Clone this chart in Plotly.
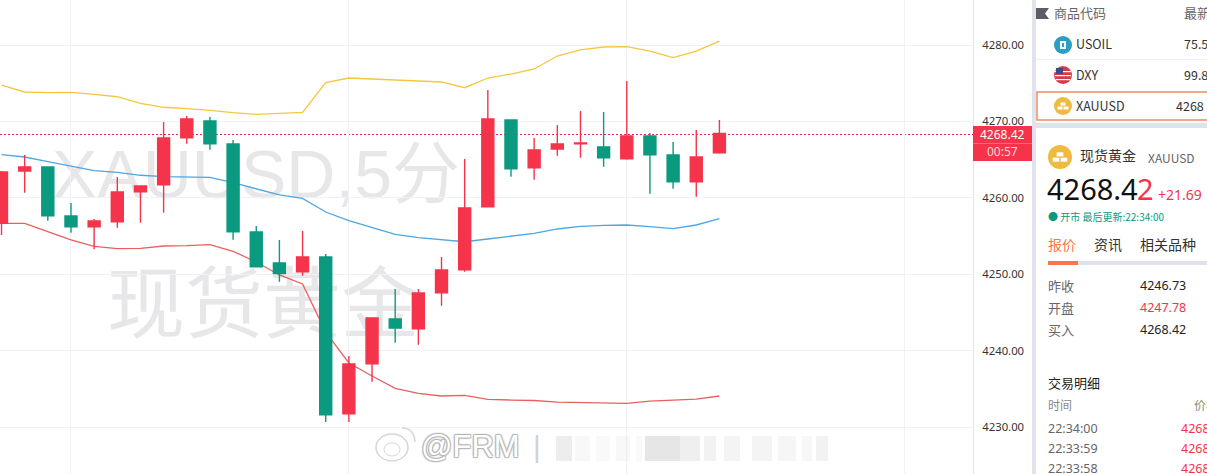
import plotly.graph_objects as go

W = 1207
H = 474
CN = "Noto Sans CJK SC"
NUM = "Noto Sans, Noto Sans CJK SC"

RED = "#f5344b"
GREEN = "#0a9a7f"
GOLD = "#eebb3f"
ORANGE = "#f5774a"
SPLIT = "#e1e3ec"

candle_idx = list(range(32))
open_ = [4256.66, 4263.51, 4264.03, 4257.62, 4256.22, 4256.87, 4260.80, 4261.71,
         4267.87, 4270.05, 4267.04, 4255.52, 4251.47, 4250.33, 4252.25, 4231.74,
         4238.29, 4244.14, 4242.87, 4247.58, 4250.59, 4258.83, 4270.18, 4263.94,
         4266.39, 4267.08, 4266.65, 4265.12, 4268.09, 4265.60, 4262.11, 4265.90]
close = [4263.38, 4264.03, 4257.66, 4256.22, 4256.96, 4260.76, 4261.54, 4267.83,
         4270.31, 4267.08, 4255.56, 4250.98, 4250.07, 4252.25, 4231.61, 4238.25,
         4244.27, 4242.96, 4247.54, 4250.55, 4258.66, 4270.31, 4263.81, 4266.26,
         4267.04, 4267.17, 4265.25, 4268.09, 4265.64, 4262.11, 4265.34, 4268.42]
high = [4263.50, 4265.60, 4264.03, 4259.32, 4257.23, 4262.72, 4261.54, 4269.92,
        4270.71, 4270.58, 4267.57, 4256.31, 4254.48, 4255.65, 4252.64, 4239.29,
        4244.27, 4248.06, 4248.06, 4252.25, 4265.08, 4274.11, 4270.18, 4267.83,
        4269.53, 4271.36, 4271.23, 4275.29, 4268.48, 4267.30, 4268.87, 4270.18]
low = [4255.13, 4260.67, 4257.00, 4255.43, 4253.26, 4256.09, 4256.74, 4258.05,
       4267.08, 4266.30, 4254.52, 4250.98, 4249.02, 4249.80, 4230.65, 4230.65,
       4235.93, 4241.03, 4240.77, 4245.88, 4250.33, 4258.76, 4262.76, 4262.37,
       4265.51, 4265.25, 4264.07, 4264.99, 4260.54, 4261.19, 4260.14, 4265.77]

upper = [4274.76, 4273.85, 4273.76, 4273.81, 4273.55, 4273.23, 4272.37, 4271.85,
         4271.66, 4271.45, 4271.14, 4270.93, 4271.06, 4271.19, 4275.07, 4275.68,
         4275.55, 4275.42, 4275.29, 4275.16, 4274.41, 4275.68, 4276.20, 4276.86,
         4278.56, 4279.35, 4279.74, 4279.80, 4279.21, 4278.36, 4279.21, 4280.52]
middle = [4265.64, 4265.34, 4264.73, 4264.12, 4263.55, 4263.34, 4262.95, 4262.76,
          4262.72, 4262.68, 4261.98, 4261.19, 4260.37, 4259.93, 4258.14, 4257.00,
          4256.05, 4255.20, 4254.78, 4254.48, 4254.25, 4254.61, 4255.01, 4255.35,
          4255.92, 4256.27, 4256.40, 4256.44, 4256.22, 4255.96, 4256.44, 4257.26]
lower = [4256.66, 4256.66, 4255.56, 4254.48, 4253.65, 4253.34, 4253.39, 4253.69,
         4253.73, 4253.86, 4253.00, 4251.60, 4249.90, 4248.72, 4242.43, 4238.38,
         4236.68, 4235.07, 4234.41, 4234.06, 4234.15, 4233.63, 4233.53, 4233.47,
         4233.27, 4233.21, 4233.14, 4233.10, 4233.40, 4233.53, 4233.66, 4234.06]

price_ticks = [4230, 4240, 4250, 4260, 4270, 4280]
price_labels = ["4230.00", "4240.00", "4250.00", "4260.00", "4270.00", "4280.00"]
time_grid = [3, 15, 27, 39]
last_price = 4268.42

x_range = [-0.065, 41.95]
y_range = [4223.85, 4285.89]
chart_right = 973


def px(x):
    return x / W


def py(y):
    return 1 - y / H


def rect(x0, y0, x1, y1, fill, line=None, opacity=1, layer="above"):
    return dict(type="rect", xref="paper", yref="paper", x0=px(x0), x1=px(x1), y0=py(y0), y1=py(y1),
                fillcolor=fill, opacity=opacity, layer=layer,
                line=dict(color=line or fill, width=1.5 if line else 0))


def circle(cx, cy, r, fill, line=None):
    return dict(type="circle", xref="paper", yref="paper", x0=px(cx - r), x1=px(cx + r),
                y0=py(cy + r), y1=py(cy - r), fillcolor=fill, layer="above",
                line=dict(color=line or fill, width=1 if line else 0))


def gold_icon(cx, cy, r):
    s = r / 9
    items = [circle(cx, cy, r, GOLD)]
    items.append(rect(cx - 2.5 * s, cy - 3.5 * s, cx + 2.5 * s, cy - 0.5 * s, "white"))
    items.append(rect(cx - 5.5 * s, cy + 0.5 * s, cx - 0.5 * s, cy + 3.5 * s, "white"))
    items.append(rect(cx + 0.5 * s, cy + 0.5 * s, cx + 5.5 * s, cy + 3.5 * s, "white"))
    return items


def text(x, y, s, size=12, color="#333333", family=CN, anchor="left", **font_extra):
    # text boxes sit about 1px low, so lift them
    return dict(xref="paper", yref="paper", x=px(x), y=py(y - 1), text=s, showarrow=False,
                xanchor=anchor, yanchor="middle", borderpad=0, borderwidth=0,
                font=dict(size=size, color=color, family=family, **font_extra))


fig = go.Figure()

# lines sit on the main axes so the candles (overlay axes) cover them
fig.add_trace(go.Scatter(x=candle_idx, y=upper, mode="lines", line=dict(color="#f5c73d", width=1.3)))
fig.add_trace(go.Scatter(x=candle_idx, y=middle, mode="lines", line=dict(color="#4fa6e3", width=1.3)))
fig.add_trace(go.Scatter(x=candle_idx, y=lower, mode="lines", line=dict(color="#e9605f", width=1.3)))
fig.add_trace(go.Candlestick(x=candle_idx, open=open_, high=high, low=low, close=close,
                             xaxis="x2", yaxis="y2", whiskerwidth=0,
                             increasing=dict(line=dict(color=RED, width=1.4), fillcolor=RED),
                             decreasing=dict(line=dict(color=GREEN, width=1.4), fillcolor=GREEN)))

shapes = []

# watermark text stays under the traces
for y0, y1, x0, label, size in [(131, 205, 49, "XAUUSD,5分", 68), (255, 340, 104, "现货黄金", 78)]:
    shapes.append(dict(type="rect", xref="paper", yref="paper", x0=px(x0), x1=px(x0 + 500),
                       y0=py(y1), y1=py(y0), layer="below", fillcolor="rgba(0,0,0,0)",
                       line=dict(width=0),
                       label=dict(text=label, textposition="middle left", padding=0,
                                  font=dict(size=size, color="#e7e7ea", family="Liberation Sans, " + CN))))

# last price line, one row wide so the dots keep their colour
shapes.append(dict(type="line", xref="paper", yref="paper", x0=0, x1=px(chart_right), y0=py(134.5), y1=py(134.5),
                   layer="below", line=dict(color="#f0283c", width=1, dash="2px,2px")))

# price tag
shapes.append(rect(chart_right, 126, 1032, 161, RED))
shapes.append(rect(chart_right, 143, 1032, 143.8, "#f77a88"))

# side panel frame
shapes.append(rect(1032, 0, 1036, H, SPLIT))
shapes.append(rect(1036, 123, W, 128, SPLIT))
shapes.append(rect(1036, 59.3, W, 60, "#e6e8ee"))
shapes.append(rect(1037, 92, W + 3, 120, "white", line="#f08a63"))
shapes.append(rect(1048, 261, W, 265, SPLIT))
shapes.append(rect(1048, 261, 1078, 265, ORANGE))

# flag mark in the list header
shapes.append(dict(type="path", xref="paper", yref="paper", layer="above", fillcolor="#5a5d66",
                   line=dict(width=0),
                   path="M %f %f L %f %f L %f %f L %f %f L %f %f Z" % (
                       px(1036), py(8), px(1049), py(8), px(1045), py(13.5), px(1049), py(19), px(1036), py(19))))

# list icons
shapes.append(circle(1063, 45, 9, "#2c9ec6"))
shapes.append(rect(1060, 41, 1066, 49, "white"))
shapes.append(rect(1062, 43, 1064, 47, "#2c9ec6"))
shapes.append(circle(1063, 75, 9, "#d83a4a"))
shapes.append(rect(1055, 71, 1071, 72.2, "white"))
shapes.append(rect(1055, 75, 1071, 76.2, "white"))
shapes.append(rect(1056, 79, 1070, 80.2, "white"))
shapes.append(rect(1056, 68, 1063, 74, "#3c4a86"))
shapes += gold_icon(1063, 106, 9)
shapes += gold_icon(1060, 157, 12)

# weibo mark and the blurred part of the credit
shapes.append(dict(type="circle", xref="paper", yref="paper", x0=px(376), x1=px(408), y0=py(461), y1=py(434),
                   layer="above", fillcolor="rgba(255,255,255,0.7)", line=dict(color="#d6d6d6", width=1.5)))
shapes.append(dict(type="circle", xref="paper", yref="paper", x0=px(384), x1=px(400), y0=py(456), y1=py(443),
                   layer="above", fillcolor="rgba(255,255,255,0)", line=dict(color="#d6d6d6", width=1)))
shapes.append(dict(type="path", xref="paper", yref="paper", layer="above", fillcolor="rgba(0,0,0,0)",
                   line=dict(color="#d6d6d6", width=1.5),
                   path="M %f %f Q %f %f %f %f" % (px(402), py(428), px(414), py(428), px(415), py(442))))
for x0, x1, tone in [(556, 572, 0.3), (575, 590, 0.12), (596, 610, 0.1), (616, 630, 0.12), (636, 642, 0.1),
                     (645, 680, 0.42), (680, 700, 0.28), (704, 716, 0.22), (724, 740, 0.18),
                     (752, 772, 0.18), (778, 796, 0.16), (802, 812, 0.14), (816, 828, 0.22)]:
    shapes.append(dict(type="rect", xref="paper", yref="paper", x0=px(x0), x1=px(x1), y0=py(461), y1=py(436),
                       layer="above", fillcolor="#c4c4c4", opacity=tone, line=dict(width=0)))

notes = [
    text(1002, 135, "%.2f" % last_price, 12, "white", NUM, "center"),
    text(1002, 152, "00:57", 12, "#fbd4d9", NUM, "center"),

    text(1054, 13, "商品代码", 13, "#666666"),
    text(1184, 13, "最新价", 13, "#666666"),
    text(1076, 45, "USOIL", 12.5),
    text(1184, 45, "75.5", 12.5),
    text(1076, 76, "DXY", 12.5),
    text(1184, 76, "99.8", 12.5),
    text(1076, 107, "XAUUSD", 12.5),
    text(1176, 107, "4268", 12.5),

    text(1080, 156, "现货黄金", 14),
    text(1148, 158, "XAUUSD", 12, "#666666"),
    text(1047, 189, "4268.4", 29, "#111111", NUM),
    text(1137, 189, "2", 29, RED, NUM),
    text(1158, 195, "+21.69", 14, RED, NUM),
    text(1048, 217, "● 开市 最后更新:22:34:00", 10, GREEN),

    text(1048, 245, "报价", 14, ORANGE),
    text(1094, 245, "资讯", 14),
    text(1140, 245, "相关品种", 14),

    text(1048, 286, "昨收", 13, "#666666"),
    text(1048, 308, "开盘", 13, "#666666"),
    text(1048, 330, "买入", 13, "#666666"),
    text(1140, 286, "4246.73", 12.5, "#222222", NUM),
    text(1140, 308, "4247.78", 12.5, RED, NUM),
    text(1140, 330, "4268.42", 12.5, "#222222", NUM),

    text(1048, 383, "交易明细", 13, "#222222"),
    text(1048, 405, "时间", 12, "#888888"),
    text(1194, 405, "价格", 12, "#888888"),
    text(1048, 429, "22:34:00", 12.5, "#666666", NUM),
    text(1048, 449, "22:33:59", 12.5, "#666666", NUM),
    text(1048, 469, "22:33:58", 12.5, "#666666", NUM),
    text(1181, 429, "4268", 12.5, RED, NUM),
    text(1181, 449, "4268", 12.5, RED, NUM),
    text(1181, 469, "4268", 12.5, RED, NUM),

    text(421, 447, "@FRM", 31, "white", "Liberation Sans",
         shadow="1px 1px 1px #b5b5b5, -1px -1px 1px #b5b5b5, 1px -1px 1px #b5b5b5, -1px 1px 1px #b5b5b5"),
    text(533, 447, "|", 30, "#d2d2d2", "Liberation Sans"),
]

fig.update_layout(
    width=W, height=H,
    margin=dict(l=0, r=0, t=0, b=0),
    paper_bgcolor="white", plot_bgcolor="white",
    showlegend=False,
    hovermode=False,
    boxgap=0.26,
    shapes=shapes,
    annotations=notes,
    xaxis=dict(domain=[0, chart_right / W], range=x_range, tickmode="array", tickvals=time_grid,
               showticklabels=False, showgrid=True, gridcolor="#f1f2f6", gridwidth=1, zeroline=False,
               ticks="", rangeslider=dict(visible=False)),
    yaxis=dict(range=y_range, side="right", tickmode="array", tickvals=price_ticks, ticktext=price_labels,
               showgrid=True, gridcolor="#f1f2f6", gridwidth=1, zeroline=False,
               showline=True, linecolor=SPLIT, linewidth=1,
               ticks="outside", ticklen=6, tickcolor="rgba(0,0,0,0)",
               tickfont=dict(size=11.3, color="#333333", family=NUM)),
    xaxis2=dict(domain=[0, chart_right / W], range=x_range, overlaying="x", visible=False,
                rangeslider=dict(visible=False)),
    yaxis2=dict(range=y_range, overlaying="y", side="right", visible=False),
)

# the page's default body margin would push the chart 8px in
fig.write_html("out.html", config=dict(displayModeBar=False),
               post_script="document.body.style.margin = '0';")
